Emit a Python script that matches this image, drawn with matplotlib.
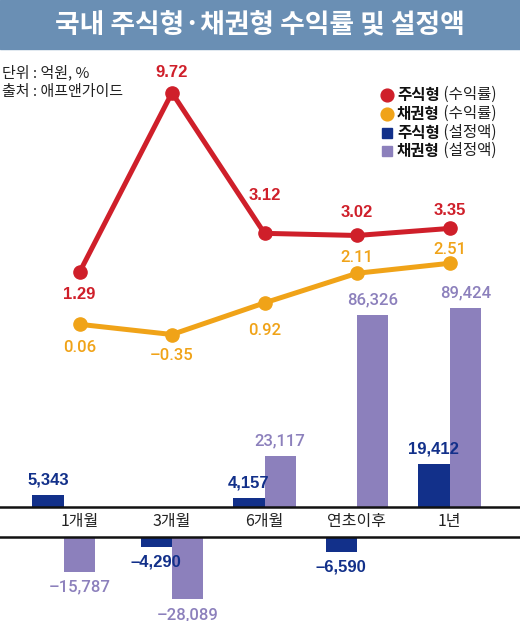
import numpy as np
import matplotlib
matplotlib.use('Agg')
import matplotlib.pyplot as plt
from matplotlib.lines import Line2D

plt.rcParams['font.family'] = ['Noto Sans CJK KR', 'DejaVu Sans']

# Data (returns in %, fund flows in 100M won)
periods = ['1개월', '3개월', '6개월', '연초이후', '1년']
stock_return = [1.29, 9.72, 3.12, 3.02, 3.35]
bond_return = [0.06, -0.35, 0.92, 2.11, 2.51]
stock_flow = [5343, -4290, 4157, -6590, 19412]
bond_flow = [-15787, -28089, 23117, 86326, 89424]

# Colours
RED = '#cf1f2a'
ORANGE = '#f0a318'
NAVY = '#12308a'
PURPLE = '#8c80bc'
TITLE_BG = '#6a8fb4'

W, H = 520, 621
fig = plt.figure(figsize=(W / 100, H / 100), dpi=100)

def fy(px):
    # pixel row -> figure fraction
    return 1 - px / H

# Title bar
fig.patches.append(plt.Rectangle((0, fy(49)), 1, 49 / H, transform=fig.transFigure,
                                 color=TITLE_BG, zorder=0))
fig.text(0.5, fy(25), '국내 주식형·채권형 수익률 및 설정액', color='white',
         fontsize=19.3, fontweight='bold', ha='center', va='center')

# Units / source
fig.text(0.004, fy(72), '단위 : 억원, %', fontsize=10.8, va='center', color='#222222')
fig.text(0.004, fy(92), '출처 : 애프앤가이드', fontsize=10.8, va='center', color='#222222')

x = np.arange(len(periods))
# the first bar group sits a little left of its label in the original
bar_x = x.astype(float)
bar_x[0] -= 0.17
xlim = (-79.5 / 92.5, (W - 79.5) / 92.5)
bw = 0.34
px_per_unit = 450.0

# Upper axes: positive flows + lines
zero_top, top_px = 507, 49
ax = fig.add_axes([0, fy(zero_top), 1, (zero_top - top_px) / H])
ax.set_xlim(*xlim)
ax.set_ylim(0, (zero_top - top_px) * px_per_unit)

# Lower axes: negative flows
zero_bot = 537
axb = fig.add_axes([0, 0, 1, (H - zero_bot) / H])
axb.set_xlim(*xlim)
axb.set_ylim(-(H - zero_bot) * px_per_unit, 0)

for a in (ax, axb):
    for s in a.spines.values():
        s.set_visible(False)
    a.set_yticks([])
    a.axhline(0, color='#111111', lw=1.8, clip_on=False, zorder=5)
axb.set_xticks([])

ax.set_xticks(x, periods)
ax.tick_params(axis='x', length=0, pad=4, labelsize=11.5, labelcolor='#222222')

def fmt(v):
    s = f'{abs(v):,}'
    return ('–' + s) if v < 0 else s

# bars first, labels afterwards so the labels stay on top
for series, off, col in [(stock_flow, -bw / 2, NAVY), (bond_flow, bw / 2, PURPLE)]:
    for xi, v in zip(bar_x, series):
        target = ax if v > 0 else axb
        target.bar(xi + off, v, width=bw, color=col, zorder=3)

for series, off, col, fam, wt in [(stock_flow, -bw / 2, NAVY, 'Liberation Sans', 'bold'),
                                  (bond_flow, bw / 2, PURPLE, 'Roboto', 'medium')]:
    for xi, v in zip(bar_x, series):
        target = ax if v > 0 else axb
        dy = 15 if v > 0 else -15
        target.annotate(fmt(v), (xi + off, v), xytext=(0, dy * 0.72),
                        textcoords='offset points', ha='center', va='center',
                        color=col, family=fam, fontweight=wt, fontsize=12,
                        zorder=10, annotation_clip=False)

# Return lines, each on its own scale
ax_r = ax.twinx()
ax_r.set_ylim(-(zero_top - 299.8) / 21.3, (299.8 - top_px) / 21.3)
ax_o = ax.twinx()
ax_o.set_ylim(-(zero_top - 325.8) / 24.9, (325.8 - top_px) / 24.9)
red_off = [-22, 20, 38, 23, 18]
org_off = [-23, -21, -28, 16, 14]

for a, vals, col, offs, fam, wt in [(ax_o, bond_return, ORANGE, org_off, 'Roboto', 'medium'),
                                    (ax_r, stock_return, RED, red_off, 'Liberation Sans', 'bold')]:
    a.set_xlim(*xlim)
    a.axis('off')
    a.plot(x, vals, color=col, lw=3.6, marker='o', markersize=9.5,
           solid_capstyle='round', zorder=4)
    for xi, v, o in zip(x, vals, offs):
        lab = ('–' + f'{abs(v):.2f}') if v < 0 else f'{v:.2f}'
        a.annotate(lab, (xi, v), xytext=(0, o * 0.72), textcoords='offset points',
                   ha='center', va='center', color=col, family=fam,
                   fontweight=wt, fontsize=12)

# Legend (manual)
leg = [('o', RED, '주식형', ' (수익률)', 95),
       ('o', ORANGE, '채권형', ' (수익률)', 113.5),
       ('s', NAVY, '주식형', ' (설정액)', 132.5),
       ('s', PURPLE, '채권형', ' (설정액)', 151)]
for mk, col, bold, rest, ypx in leg:
    ms = 9.2 if mk == 'o' else 7.4
    fig.add_artist(Line2D([387 / W], [fy(ypx)], marker=mk, color=col, markersize=ms,
                          linestyle='none', transform=fig.transFigure))
    t1 = fig.text(397 / W, fy(ypx), bold, fontsize=11.2, fontweight='bold',
                  va='center', color='#111111')
    ax.annotate(rest, xy=(1, 0), xycoords=t1, va='bottom', ha='left',
                fontsize=11.2, color='#222222', annotation_clip=False)

fig.savefig('out.png', dpi=100)
